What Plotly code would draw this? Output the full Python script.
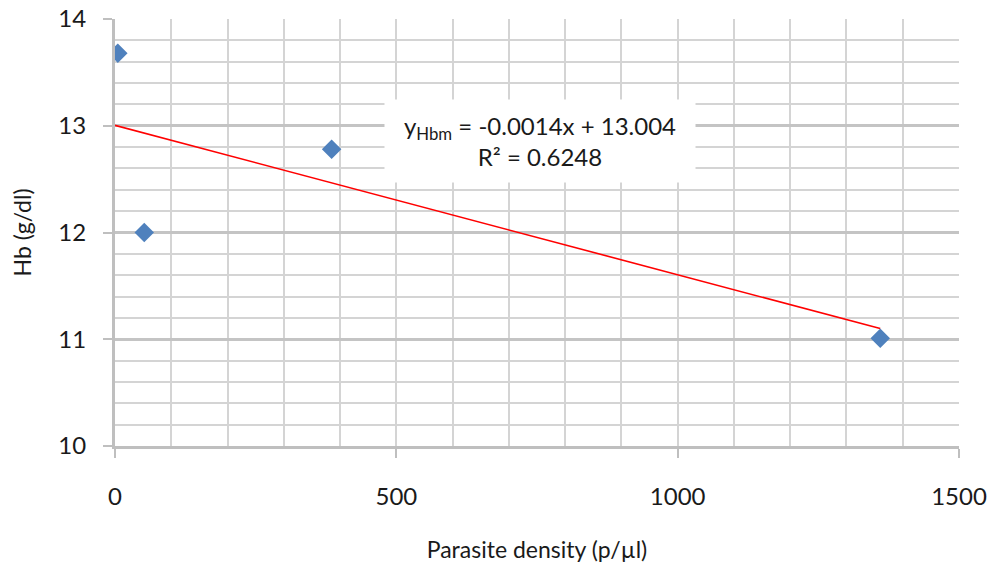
import plotly.graph_objects as go

# Data
parasite_density = [5, 52, 385, 1360]
hb_values = [13.68, 12.0, 12.78, 11.01]

trend_slope = -0.0014
trend_intercept = 13.004
r_squared = 0.6248

x_tick_vals = [0, 500, 1000, 1500]
y_tick_vals = [10, 11, 12, 13, 14]

FONT = "Lato, 'Open Sans', sans-serif"
TXT = "#1a1a1a"

trend_x = [0, max(parasite_density)]
trend_y = [trend_intercept + trend_slope * v for v in trend_x]

fig = go.Figure()
fig.add_trace(go.Scatter(
    x=trend_x, y=trend_y, mode="lines",
    line=dict(color="#ff0000", width=1.6),
    hoverinfo="skip", showlegend=False,
))
fig.add_trace(go.Scatter(
    x=parasite_density, y=hb_values, mode="markers",
    marker=dict(symbol="diamond", size=15, color="#4f81bd",
                line=dict(width=0)),
    showlegend=False,
))

fig.add_annotation(
    x=755, y=12.86, xref="x", yref="y",
    text=f"y<sub>Hbm</sub> = {trend_slope}x + {trend_intercept}<br>R² = {r_squared}",
    showarrow=False, align="center",
    font=dict(family=FONT, size=24, color=TXT),
    bgcolor="white", width=308, height=80,
)

fig.update_xaxes(
    range=[0, 1500], tickvals=x_tick_vals, automargin=False,
    ticklabeloverflow="allow",
    ticks="outside", ticklen=9, tickwidth=2, tickcolor="#bfbfbf",
    showline=True, linecolor="#bfbfbf", linewidth=3,
    showgrid=True, gridcolor="#d4d4d4", gridwidth=2,
    minor=dict(dtick=100, showgrid=True, gridcolor="#d4d4d4", gridwidth=2),
    zeroline=False,
    ticklabelstandoff=18,
    tickfont=dict(family=FONT, size=24, color=TXT),
    title=dict(text="Parasite density (p/µl)", standoff=40,
               font=dict(family=FONT, size=23, color=TXT)),
)
fig.update_yaxes(
    range=[10, 14], tickvals=y_tick_vals, automargin=False,
    ticklabeloverflow="allow",
    ticks="outside", ticklen=9, tickwidth=2, tickcolor="#bfbfbf",
    showline=True, linecolor="#bfbfbf", linewidth=3,
    showgrid=True, gridcolor="#c4c4c4", gridwidth=3,
    minor=dict(dtick=0.2, showgrid=True, gridcolor="#d4d4d4", gridwidth=2),
    zeroline=False,
    ticklabelstandoff=12,
    tickfont=dict(family=FONT, size=24, color=TXT),
    title=dict(text="Hb (g/dl)", standoff=36,
               font=dict(family=FONT, size=23, color=TXT)),
)

# page body has an 8px default margin; compensate so the plot area lands
# where the reference has it
fig.update_layout(
    width=987, height=555,
    margin=dict(l=107, r=36, t=11, b=117),
    paper_bgcolor="white", plot_bgcolor="white",
)

fig.write_html("out.html")
